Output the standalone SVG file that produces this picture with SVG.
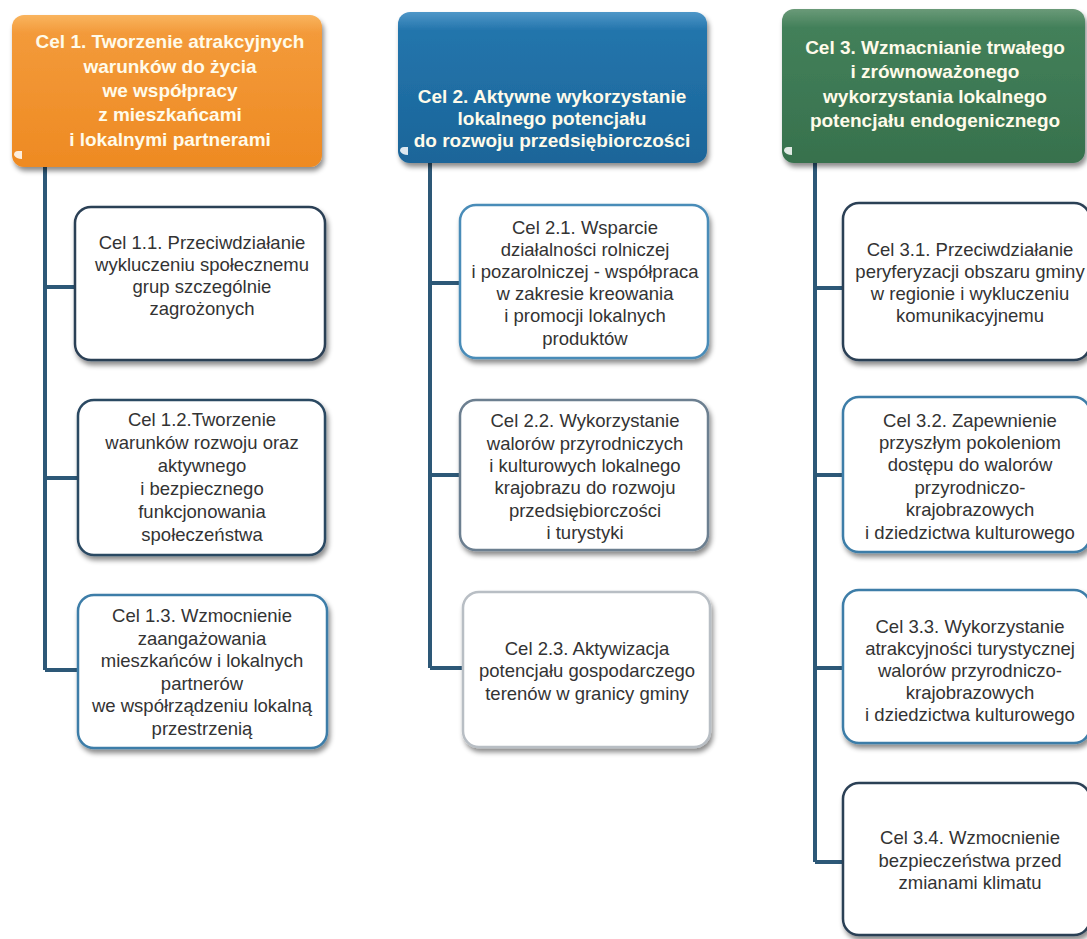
<svg xmlns="http://www.w3.org/2000/svg" width="1087" height="939" viewBox="0 0 1087 939">
<defs>
<linearGradient id="gO" x1="0" y1="0" x2="0" y2="1"><stop offset="0" stop-color="#F9B45E"/><stop offset="0.12" stop-color="#F39A3A"/><stop offset="1" stop-color="#EE8A22"/></linearGradient>
<linearGradient id="gB" x1="0" y1="0" x2="0" y2="1"><stop offset="0" stop-color="#4F97C8"/><stop offset="0.12" stop-color="#2475AC"/><stop offset="1" stop-color="#1A6599"/></linearGradient>
<linearGradient id="gG" x1="0" y1="0" x2="0" y2="1"><stop offset="0" stop-color="#6A9A78"/><stop offset="0.12" stop-color="#43805A"/><stop offset="1" stop-color="#37714D"/></linearGradient>
<filter id="sh" x="-10%" y="-10%" width="125%" height="130%"><feDropShadow dx="2" dy="4" stdDeviation="2.5" flood-color="#000" flood-opacity="0.45"/></filter>
</defs>
<style>
.hd{stroke:none;filter:url(#sh)}
.ht{font-family:"Liberation Sans","Open Sans",sans-serif;font-weight:bold;font-size:19px;fill:#FFFBEA;text-anchor:middle}
.bx{fill:#FFFFFF;stroke-width:2.5;filter:url(#sh)}
.bt{font-family:"Liberation Sans","Open Sans",sans-serif;font-size:18.5px;fill:#333333;text-anchor:middle}
.cn{fill:none;stroke:#2D5877;stroke-width:4}
.nt{fill:#FFFFFF;opacity:0.85}
</style>
<rect width="1087" height="939" fill="#FFFFFF"/>
<g id="connectors">
<path class="cn" d="M45 165V670M45 287H75M45 478H78M45 670H78"/>
<path class="cn" d="M430 163V668M430 283H460M430 475H460M430 668H463"/>
<path class="cn" d="M815 163V862M815 288H843M815 475H843M815 668H843M815 862H843"/>
</g>
<g id="cel1">
<rect class="hd" x="12" y="15" width="310" height="152" rx="12" fill="url(#gO)"/>
<path class="nt" d="M14 155q0 -4 4 -4h4v8q-6 0-8-4z"/>
<text class="ht"><tspan x="170" y="48">Cel 1. Tworzenie atrakcyjnych</tspan><tspan x="170" y="73">warunków do życia</tspan><tspan x="170" y="97">we współpracy</tspan><tspan x="170" y="121">z mieszkańcami</tspan><tspan x="170" y="146">i lokalnymi partnerami</tspan></text>
</g>
<g id="cel2">
<rect class="hd" x="398" y="12" width="309" height="151" rx="12" fill="url(#gB)"/>
<path class="nt" d="M400 151q0 -4 4 -4h4v8q-6 0-8-4z"/>
<text class="ht"><tspan x="552" y="103">Cel 2. Aktywne wykorzystanie</tspan><tspan x="552" y="125">lokalnego potencjału</tspan><tspan x="552" y="147">do rozwoju przedsiębiorczości</tspan></text>
</g>
<g id="cel3">
<rect class="hd" x="782" y="9" width="303" height="154" rx="12" fill="url(#gG)"/>
<path class="nt" d="M784 151q0 -4 4 -4h4v8q-6 0-8-4z"/>
<text class="ht"><tspan x="935" y="54">Cel 3. Wzmacnianie trwałego</tspan><tspan x="935" y="78">i zrównoważonego</tspan><tspan x="935" y="103">wykorzystania lokalnego</tspan><tspan x="935" y="127">potencjału endogenicznego</tspan></text>
</g>
<g id="cel11">
<rect class="bx" x="75" y="207" width="250" height="153" rx="16" stroke="#2B3F55"/>
<text class="bt"><tspan x="202" y="249">Cel 1.1. Przeciwdziałanie</tspan><tspan x="202" y="271">wykluczeniu społecznemu</tspan><tspan x="202" y="293">grup szczególnie</tspan><tspan x="202" y="315">zagrożonych</tspan></text>
</g>
<g id="cel12">
<rect class="bx" x="78" y="400" width="247" height="155" rx="16" stroke="#2B4862"/>
<text class="bt"><tspan x="202" y="426">Cel 1.2.Tworzenie</tspan><tspan x="202" y="449">warunków rozwoju oraz</tspan><tspan x="202" y="472">aktywnego</tspan><tspan x="202" y="495">i bezpiecznego</tspan><tspan x="202" y="518">funkcjonowania</tspan><tspan x="202" y="541">społeczeństwa</tspan></text>
</g>
<g id="cel13">
<rect class="bx" x="78" y="595" width="249" height="153" rx="16" stroke="#3C7DA8"/>
<text class="bt"><tspan x="202" y="622">Cel 1.3. Wzmocnienie</tspan><tspan x="202" y="645">zaangażowania</tspan><tspan x="202" y="667">mieszkańców i lokalnych</tspan><tspan x="202" y="690">partnerów</tspan><tspan x="202" y="712">we współrządzeniu lokalną</tspan><tspan x="202" y="735">przestrzenią</tspan></text>
</g>
<g id="cel21">
<rect class="bx" x="460" y="205" width="248" height="153" rx="16" stroke="#4A8CB8"/>
<text class="bt"><tspan x="585" y="234">Cel 2.1. Wsparcie</tspan><tspan x="585" y="256">działalności rolniczej</tspan><tspan x="585" y="278">i pozarolniczej - współpraca</tspan><tspan x="585" y="300">w zakresie kreowania</tspan><tspan x="585" y="322">i promocji lokalnych</tspan><tspan x="585" y="345">produktów</tspan></text>
</g>
<g id="cel22">
<rect class="bx" x="460" y="400" width="248" height="150" rx="16" stroke="#6C7F90"/>
<text class="bt"><tspan x="585" y="427">Cel 2.2. Wykorzystanie</tspan><tspan x="585" y="450">walorów przyrodniczych</tspan><tspan x="585" y="472">i kulturowych lokalnego</tspan><tspan x="585" y="494">krajobrazu do rozwoju</tspan><tspan x="585" y="517">przedsiębiorczości</tspan><tspan x="585" y="539">i turystyki</tspan></text>
</g>
<g id="cel23">
<rect class="bx" x="463" y="592" width="247" height="155" rx="16" stroke="#B8BEC4"/>
<text class="bt"><tspan x="587" y="655">Cel 2.3. Aktywizacja</tspan><tspan x="587" y="677">potencjału gospodarczego</tspan><tspan x="587" y="700">terenów w granicy gminy</tspan></text>
</g>
<g id="cel31">
<rect class="bx" x="843" y="203" width="247" height="157" rx="16" stroke="#2B3F55"/>
<text class="bt"><tspan x="970" y="256">Cel 3.1. Przeciwdziałanie</tspan><tspan x="970" y="278">peryferyzacji obszaru gminy</tspan><tspan x="970" y="300">w regionie i wykluczeniu</tspan><tspan x="970" y="322">komunikacyjnemu</tspan></text>
</g>
<g id="cel32">
<rect class="bx" x="843" y="397" width="247" height="155" rx="16" stroke="#3C7DA8"/>
<text class="bt"><tspan x="970" y="427">Cel 3.2. Zapewnienie</tspan><tspan x="970" y="449">przyszłym pokoleniom</tspan><tspan x="970" y="471">dostępu do walorów</tspan><tspan x="970" y="494">przyrodniczo-</tspan><tspan x="970" y="516">krajobrazowych</tspan><tspan x="970" y="539">i dziedzictwa kulturowego</tspan></text>
</g>
<g id="cel33">
<rect class="bx" x="843" y="590" width="247" height="153" rx="16" stroke="#3C7DA8"/>
<text class="bt"><tspan x="970" y="633">Cel 3.3. Wykorzystanie</tspan><tspan x="970" y="655">atrakcyjności turystycznej</tspan><tspan x="970" y="677">walorów przyrodniczo-</tspan><tspan x="970" y="699">krajobrazowych</tspan><tspan x="970" y="721">i dziedzictwa kulturowego</tspan></text>
</g>
<g id="cel34">
<rect class="bx" x="843" y="783" width="247" height="152" rx="16" stroke="#2B3F55"/>
<text class="bt"><tspan x="970" y="844">Cel 3.4. Wzmocnienie</tspan><tspan x="970" y="867">bezpieczeństwa przed</tspan><tspan x="970" y="889">zmianami klimatu</tspan></text>
</g>
</svg>
